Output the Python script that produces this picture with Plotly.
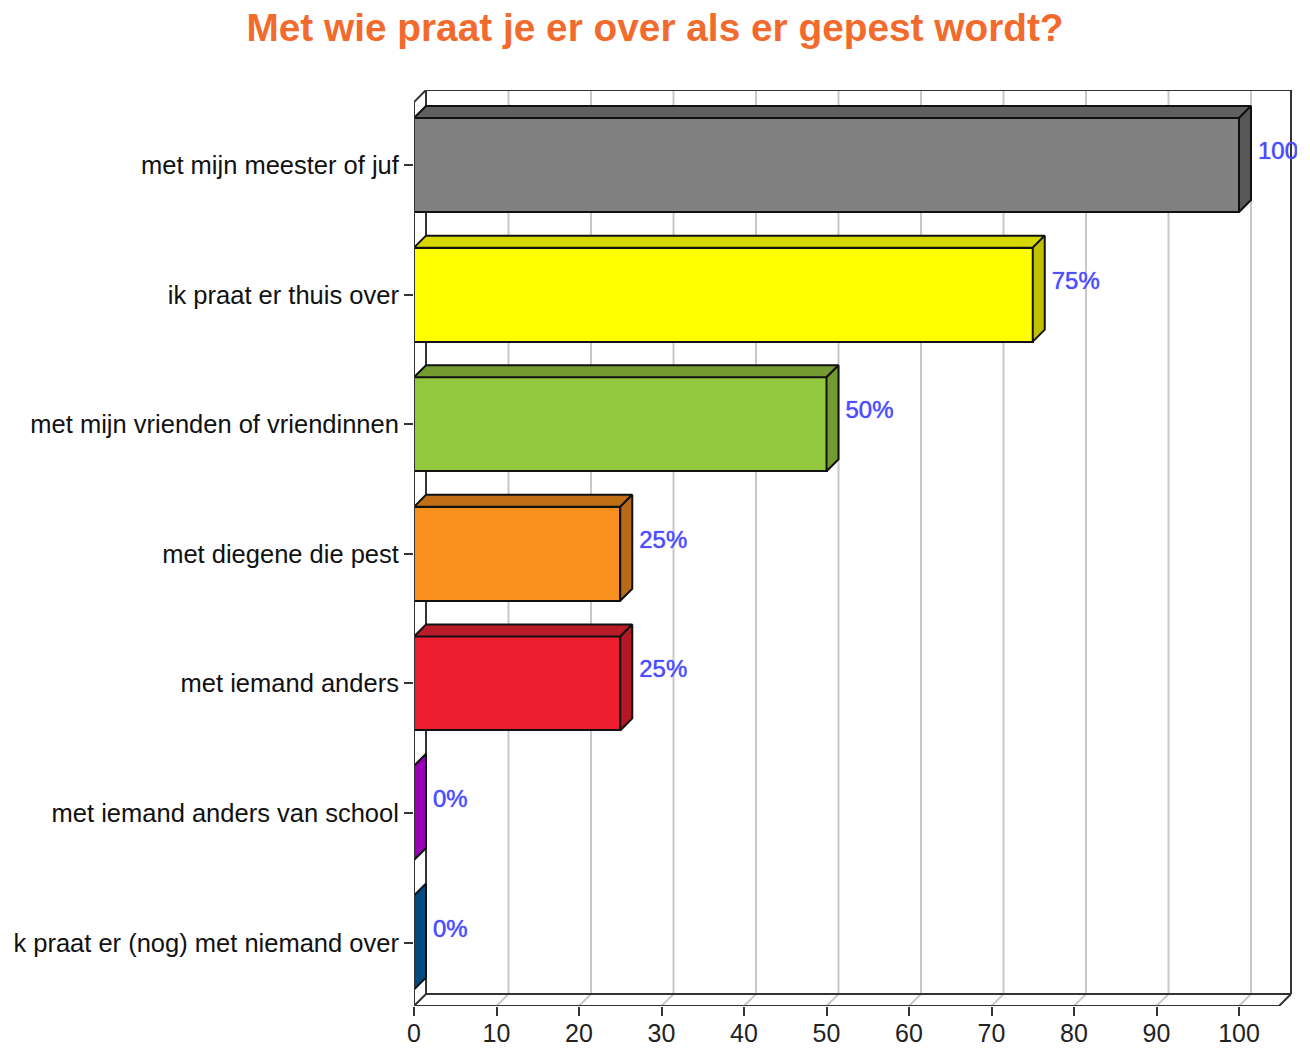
import plotly.graph_objects as go

categories = ['met mijn meester of juf', 'ik praat er thuis over', 'met mijn vrienden of vriendinnen',
              'met diegene die pest', 'met iemand anders', 'met iemand anders van school',
              'k praat er (nog) met niemand over']
values = [100, 75, 50, 25, 25, 0, 0]
labels = ['100%', '75%', '50%', '25%', '25%', '0%', '0%']
front_colors = ['#808080', '#ffff00', '#92c83e', '#f7901e', '#ed1c2e', '#9900b8', '#004b80']
top_colors = ['#606060', '#d8d800', '#739b30', '#c06f15', '#bb1a28', '#7a0094', '#003c66']
side_colors = ['#585858', '#c0c000', '#739b30', '#b86a18', '#b51825', '#9900b8', '#004b80']
x_ticks = [0, 10, 20, 30, 40, 50, 60, 70, 80, 90, 100]

# pixels per unit, used to turn the fake 3d depth into axis units
px_x = 8.25
px_y = 129.6
dx = 12 / px_x
dy = 12 / px_y
bar_w = 94 / px_y
x_end = 104.85
y_top = -0.486
y_bottom = 6.489
positions = list(range(len(categories)))

fig = go.Figure()
shapes = []


def back_line(xs, ys, color='#333333', width=2):
    # shapes stay below the bars, unlike scatter lines
    for i in range(len(xs) - 1):
        shapes.append(dict(type='line', layer='below', xref='x', yref='y', x0=xs[i], x1=xs[i + 1],
                           y0=ys[i], y1=ys[i + 1], line=dict(color=color, width=width)))


def face(xs, ys, color):
    fig.add_trace(go.Scatter(x=xs, y=ys, mode='lines', fill='toself', fillcolor=color,
                             line=dict(color='#111111', width=2), cliponaxis=False,
                             hoverinfo='skip', showlegend=False))


# grid lines on the back wall and the floor
for t in x_ticks[1:]:
    back_line([t, t + dx, t + dx], [y_bottom, y_bottom - dy, y_top - dy], color='#c8c8c8', width=2)

# box
back_line([dx, x_end + dx, x_end + dx, dx, dx], [y_top - dy, y_top - dy, y_bottom - dy, y_bottom - dy, y_top - dy])
back_line([x_end, x_end + dx], [y_bottom, y_bottom - dy])
back_line([0, dx], [y_top, y_top - dy])
back_line([0, dx], [y_bottom, y_bottom - dy])

fig.add_trace(go.Bar(x=values, y=positions, orientation='h', width=bar_w,
                     marker=dict(color=front_colors, line=dict(color='#111111', width=2)),
                     cliponaxis=False, hoverinfo='skip', showlegend=False))

# top and side of each bar
for p, v, tc, sc in zip(positions, values, top_colors, side_colors):
    a = p - bar_w / 2
    b = p + bar_w / 2
    face([0, v, v + dx, dx, 0], [a, a, a - dy, a - dy, a], tc)
    face([v, v + dx, v + dx, v, v], [a, a - dy, b - dy, b, a], sc)

# front edges of the box
fig.add_trace(go.Scatter(x=[0, 0, x_end], y=[y_top, y_bottom, y_bottom], mode='lines',
                         line=dict(color='#333333', width=2), cliponaxis=False,
                         hoverinfo='skip', showlegend=False))

# value labels sit a bit above the middle of the bar
fig.add_trace(go.Scatter(x=[v + 19 / px_x for v in values], y=[p - 12 / px_y for p in positions],
                         mode='text', text=labels, textposition='middle right',
                         textfont=dict(family='Liberation Sans', size=24, color='#4d4dff',
                                       shadow='0 0 1px #4d4dff'),
                         hoverinfo='skip', showlegend=False))

fig.update_layout(
    width=1310, height=1048, autosize=False,
    margin=dict(l=406, r=21, t=82, b=50),
    plot_bgcolor='white', paper_bgcolor='white',
    bargap=0,
    shapes=shapes,
    title=dict(text='<b>Met wie praat je er over als er gepest wordt?</b>',
               font=dict(family='Liberation Sans', size=38.8, color='#f26b2d'),
               x=647 / 1310, xanchor='center', y=1 - 19 / 1048, yanchor='middle'),
    xaxis=dict(range=[0, 883 / px_x], tickvals=x_ticks, ticks='outside', ticklen=9, tickwidth=2,
               tickcolor='#333333', showgrid=False, zeroline=False, showline=False, automargin=False,
               ticklabelstandoff=-4,
               tickfont=dict(family='Liberation Sans', size=25, color='#222222')),
    yaxis=dict(range=[y_bottom, y_bottom - 916 / px_y], tickvals=positions, ticktext=categories,
               ticks='outside', ticklen=9, tickwidth=2, tickcolor='#333333', showgrid=False,
               zeroline=False, showline=False, automargin=False,
               tickfont=dict(family='Liberation Sans', size=25.5, color='#111111')),
)

fig.write_html("out.html")
